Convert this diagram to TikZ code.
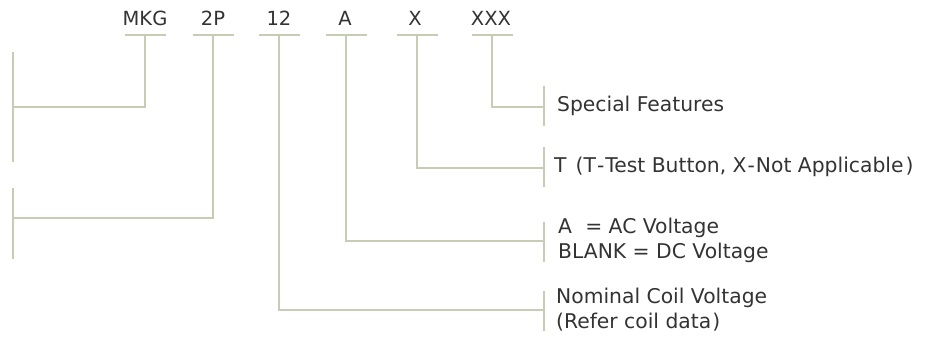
\documentclass[tikz,border=0pt]{standalone}
\usepackage{fontspec}
\setmainfont{DejaVu Sans}
\usetikzlibrary{calc}
\definecolor{lc}{RGB}{197,206,181}
\definecolor{txt}{RGB}{51,51,51}
\newcommand{\hy}{\kern1pt-\kern1pt}
\tikzset{
  code/.style={font=\fontsize{19.5}{23}\selectfont, text=txt, inner sep=0pt},
  desc/.style={font=\fontsize{20.3}{25}\selectfont, text=txt, inner sep=0pt, anchor=west, align=left},
  ln/.style={draw=lc, line width=2pt},
}
\begin{document}
\begin{tikzpicture}[x=1pt,y=-1pt]
\useasboundingbox (0,0) rectangle (930,340);
% code labels
\node[code] (mkg) at (145,18) {MKG};
\node[code] (tp)  at (213,18) {2P};
\node[code] (tw)  at (279,18) {12};
\node[code] (ac)  at (345,18) {A};
\node[code] (xx)  at (415,18) {X};
\node[code] (sp)  at (491,18) {XXX};
% underline midpoints
\coordinate (uM) at (145,35);
\coordinate (uP) at (213,35);
\coordinate (uT) at (279,35);
\coordinate (uA) at (346,35);
\coordinate (uX) at (417,35);
\coordinate (uS) at (492,35);
\foreach \u in {uM,uP,uT,uA,uX,uS}
  \draw[ln] ($(\u)+(-20.5,0)$) -- ($(\u)+(20.5,0)$);
% left bars
\coordinate (lb1) at (13,107);
\coordinate (lb2) at (13,218);
\draw[ln] (13,52) -- (13,162);
\draw[ln] (13,188) -- (13,259);
% right bars
\coordinate (rb1) at (544,107);
\coordinate (rb2) at (544,168);
\coordinate (rb3) at (544,241);
\coordinate (rb4) at (544,310);
\draw[ln] (544,86) -- (544,126);
\draw[ln] (544,147) -- (544,187);
\draw[ln] (544,222) -- (544,262);
\draw[ln] (544,291) -- (544,331);
% connectors
\draw[ln] (uM) -- (uM |- lb1) -- (lb1);
\draw[ln] (uP) -- (uP |- lb2) -- (lb2);
\draw[ln] (uS) -- (uS |- rb1) -- (rb1);
\draw[ln] (uX) -- (uX |- rb2) -- (rb2);
\draw[ln] (uA) -- (uA |- rb3) -- (rb3);
\draw[ln] (uT) -- (uT |- rb4) -- (rb4);
% descriptions
\node[desc] (d1) at (557,106) {Special Features};
\node[desc] (d2) at (554,167) {T\hspace{0.45em}(T\hy Test Button, X\hy Not Applicable\kern2pt)};
\node[desc] (d3) at (558,240) {A\hspace{0.65em}= AC Voltage\\BLANK = DC Voltage};
\node[desc] (d4) at (556,310) {Nominal Coil Voltage\\(Refer coil data\kern1pt)};
\end{tikzpicture}
\end{document}
